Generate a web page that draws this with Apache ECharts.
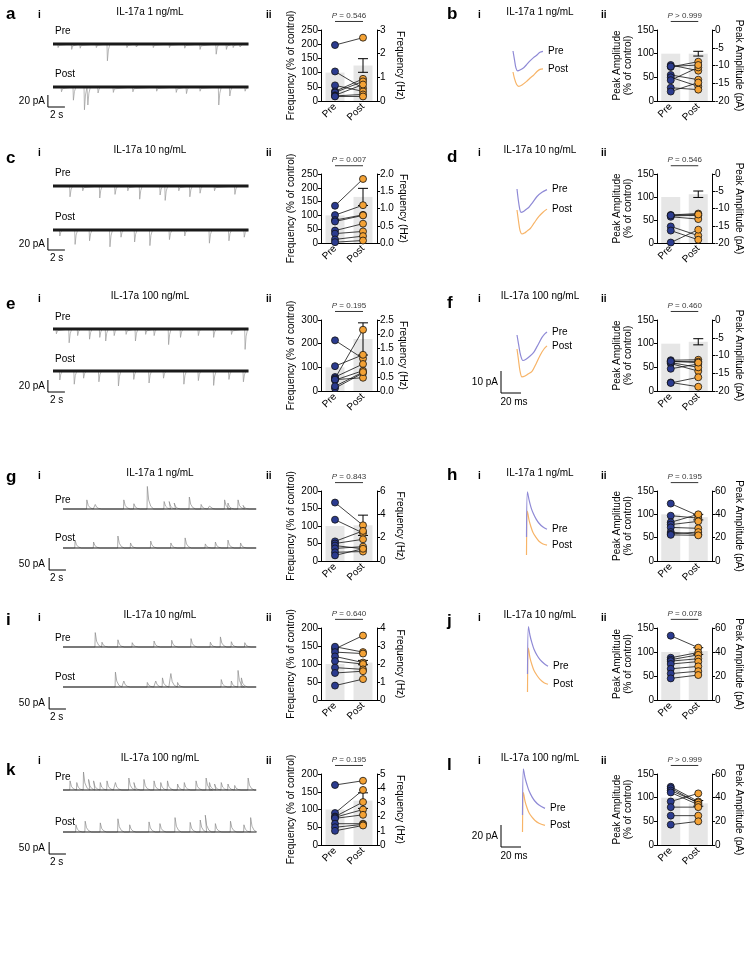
<!DOCTYPE html>
<html><head><meta charset="utf-8">
<script src="https://cdn.jsdelivr.net/npm/echarts@6.0.0/dist/echarts.min.js"></script>
<style>html,body{margin:0;padding:0;background:#fff}#c{width:750px;height:966px}</style>
</head><body><div id="c"></div>
<script>
// ================= DATA =================
const groups = ['Pre', 'Post'];
const panelLetters = ['a','b','c','d','e','f','g','h','i','j','k','l'];
const concLabels = ['IL-17a 1 ng/mL','IL-17a 1 ng/mL','IL-17a 10 ng/mL','IL-17a 10 ng/mL','IL-17a 100 ng/mL','IL-17a 100 ng/mL',
                    'IL-17a 1 ng/mL','IL-17a 1 ng/mL','IL-17a 10 ng/mL','IL-17a 10 ng/mL','IL-17a 100 ng/mL','IL-17a 100 ng/mL'];
const pValues = ['= 0.546','> 0.999','= 0.007','= 0.546','= 0.195','= 0.460','= 0.843','= 0.195','= 0.640','= 0.078','= 0.195','> 0.999'];

// paired values (% of control)
const freqPreA = [197,104,55,34,30,20,18,16];
const freqPostA = [223,45,34,78,69,58,23,16];
const ampPreB = [76,72,55,50,44,28,20,73];
const ampPostB = [64,83,45,31,71,24,39,76];
const freqPreC = [135,101,83,78,45,34,13,3];
const freqPostC = [232,137,102,100,70,42,25,9];
const ampPreD = [61,59,57,60,36,27,1];
const ampPostD = [64,60,52,62,16,7,29];
const freqPreE = [214,105,59,53,46,12,48,20];
const freqPostE = [137,153,114,259,86,76,56,80];
const ampPreF = [65,62,58,47,18,17,60,63];
const ampPostF = [66,62,42,57,9,29,50,60];
const freqPreG = [167,118,56,50,44,36,25,16];
const freqPostG = [102,80,86,62,35,41,27,35];
const ampPreH = [123,97,83,78,72,62,58,56];
const ampPostH = [97,92,100,85,70,57,62,55];
const freqPreI = [142,148,133,121,108,90,75,40];
const freqPostI = [179,133,129,104,100,85,80,58];
const ampPreJ = [134,88,84,81,75,65,55,45];
const ampPostJ = [109,99,94,86,80,70,60,52];
const freqPreK = [169,90,80,78,75,60,50,40];
const freqPostK = [181,155,121,100,85,60,58,55];
const ampPreL = [123,120,115,111,92,80,62,43];
const ampPostL = [92,88,90,85,109,80,62,50];

const preBarMeans = [100,100,100,100,100,100,100,100,100,100,100,100];
const postBarMeans = [125,100,167,106,220,104,102,94,104,102,125,88];
const postBarSEM = [24,5,31,7,68,6.5,29,6,6,7,22,6];

const leftMax = [250,150,250,150,300,150,200,150,200,150,200,150];
const leftStep = [50,50,50,50,100,50,50,50,50,50,50,50];
const rightMin = [0,-20,0,-20,0,-20,0,0,0,0,0,0];
const rightMax = [3,0,2,0,2.5,0,6,60,4,60,5,60];
const rightStep = [1,5,0.5,5,0.5,5,2,20,1,20,1,20];
const rightDecimals = [0,0,1,0,1,0,0,0,0,0,0,0];

// spontaneous trace events [time s, amplitude pA]
const spikesPreA = [[0.6,6],[2.2,9],[3.2,7],[5.1,6],[6.4,28],[8.7,6],[9.8,5],[11.8,6],[13.7,6],[15.5,7],[17.3,9],[19.2,17],[20.4,9],[21.2,6],[22.0,5]];
const spikesPostA = [[1.0,8],[2.4,22],[3.7,38],[4.1,30],[5.3,10],[7.1,9],[9.4,8],[12.2,7],[14.5,9],[15.7,11],[17.3,7],[19.5,30],[20.8,15],[22.6,7]];
const spikesPreC = [[2.0,18],[3.5,8],[5.5,20],[7.3,14],[8.8,8],[10.2,22],[12.6,15],[13.2,24],[14.8,8],[16.1,18],[17.3,12],[19.0,8],[21.4,14]];
const spikesPostC = [[0.8,10],[2.6,24],[4.3,18],[6.7,28],[8.0,12],[9.6,20],[11.4,26],[13.7,16],[15.5,10],[18.4,22],[20.7,18],[22.5,12]];
const spikesPreE = [[0.4,8],[1.9,23],[2.9,11],[4.3,17],[5.5,14],[6.2,20],[7.2,11],[8.6,9],[9.7,20],[10.9,9],[11.9,11],[13.6,26],[15.0,14],[17.1,11],[18.9,14],[21.0,9],[22.6,34]];
const spikesPostE = [[0.8,15],[2.5,22],[3.6,12],[5.4,18],[7.7,25],[9.5,14],[11.3,20],[13.0,12],[15.4,22],[17.1,16],[18.9,24],[20.7,14],[22.4,18]];
const spikesPreG = [[2.8,38],[3.8,19],[7.2,38],[8.4,22],[10.0,94],[12.0,31],[12.6,31],[13.2,25],[15.0,50],[16.4,19],[17.4,12],[19.2,38],[19.6,25],[20.8,38],[21.4,15]];
const spikesPostG = [[1.4,33],[3.6,25],[6.5,50],[8.0,21],[10.4,29],[12.8,21],[14.5,42],[16.9,17],[18.1,25],[19.6,33],[21.1,21]];
const spikesPreI = [[3.8,60],[4.6,20],[6.5,30],[8.2,18],[10.8,25],[12.9,28],[15.2,35],[17.5,20],[18.7,42],[20.0,22],[21.6,18]];
const spikesPostI = [[6.2,62],[7.2,25],[10.0,19],[11.0,25],[11.8,38],[12.8,56],[13.6,19],[18.8,31],[20.0,25],[20.8,69],[21.2,38]];
const spikesPreK = [[0.8,38],[1.6,31],[2.4,75],[3.0,44],[3.6,38],[4.4,31],[5.2,38],[6.2,31],[7.8,50],[8.4,31],[9.6,44],[10.8,38],[11.6,31],[12.4,38],[13.6,25],[14.4,31],[15.8,38],[17.0,50],[17.4,31],[18.0,25],[18.8,31],[19.6,25],[20.4,19],[22.0,50]];
const spikesPostK = [[1.5,30],[2.6,45],[4.4,38],[6.5,55],[7.9,30],[10.2,42],[11.5,35],[13.3,60],[15.1,40],[16.3,50],[16.9,70],[18.1,35],[19.9,45],[21.5,30],[22.3,60]];

// averaged event waveforms [time ms, pA]
const miniPreB = [[0,0],[1.5,-4],[3,-7.8],[4.7,-9],[7,-8.6],[10.7,-7.6],[14,-6],[17,-4.5],[20.5,-3],[24,-1.8],[27,-0.6],[30,-0.2]];
const miniPostB = [[0,0],[1.5,-3],[3.5,-5.6],[5.7,-6.5],[9,-5.9],[14,-4.1],[17.5,-2.6],[20.7,-1.4],[24,0.2],[27,1.2],[30,1.4]];
const miniPreD = [[0,0],[1.3,-5],[2.7,-9],[4,-10.6],[6.5,-10.2],[9,-9.3],[11.7,-8.4],[15,-6.5],[20,-3.4],[25,-1.5],[30,-0.3]];
const miniPostD = [[0,0],[1.5,-5],[3,-9.3],[5,-10.9],[7.5,-10.5],[10,-9.6],[13.3,-8.4],[17,-6],[21.7,-3],[26,-1],[30,0.4]];
const miniPreF = [[0,0],[1.5,-4],[3.5,-9],[6,-11.6],[9,-11],[12.5,-9.8],[16.7,-7.9],[20,-5.3],[25,-1.1],[28,0.6],[30,1.4]];
const miniPostF = [[0,0],[1.5,-5],[3,-10],[5,-12.7],[8,-12.3],[11,-11.4],[15,-10.2],[19,-6.8],[23.3,-2.7],[27,0],[30,1.4]];
const miniPreH = [[-0.5,0],[0,0],[0.4,41],[2,34],[4,27],[6,22],[9,16.5],[12,12.5],[16,9],[20,7]];
const miniPostH = [[-0.5,0],[0,0],[0.4,40],[2,32],[4,25.5],[6,20.5],[9,16],[12,12.5],[16,10],[20,9]];
const miniPreJ = [[-0.5,0],[0,0],[0.4,43],[2,35],[4,28],[6,22.5],[9,17],[12,13],[16,9.5],[20,7]];
const miniPostJ = [[-0.5,0],[0,0],[0.4,40],[2,31],[4,24.5],[6,19.5],[9,15],[12,11.5],[16,8.5],[20,7]];
const miniPreL = [[-0.5,0],[0,0],[0.4,42],[2,34],[4,27.5],[6,22],[9,16.5],[12,12.5],[16,9],[22,6]];
const miniPostL = [[-0.5,0],[0,0],[0.4,36],[2,28],[4,22],[6,17.5],[9,13.5],[12,10.5],[16,8],[22,6]];

// ================= LAYOUT (pixels) =================
const FONT = '"Liberation Sans", Arial, Helvetica, sans-serif';
const pairTop = [30, 174, 320, 491, 628, 774];
const pairBottom = [101, 243, 391, 561, 700, 845];
const pairLeftX = [321, 657];
const pairWidth = [56, 55];
const titleY = [12, 150, 296, 473, 615, 758];
const letterYL = [14, 158, 304, 477, 620, 770];
const letterYR = [14, 157, 303, 475, 621, 765];
const traceRows = [
  {pre:44, post:87, bar:107, preLabel:31, postLabel:74},
  {pre:186, post:230, bar:250, preLabel:173, postLabel:217},
  {pre:329, post:371, bar:392, preLabel:317, postLabel:359},
  {pre:509, post:548, bar:570, preLabel:500, postLabel:538},
  {pre:647, post:687, bar:709, preLabel:638, postLabel:677},
  {pre:790, post:832, bar:854, preLabel:777, postLabel:822}
];
const miniRows = [
  {x0:513, pre:51, post:72},
  {x0:517, pre:189, post:210},
  {x0:517, pre:335, post:349, bar:393, barX:501, barAmp:10, barLabel:'10 pA'},
  {x0:527, pre:537, post:555},
  {x0:528, pre:674, post:692},
  {x0:523, pre:815, post:832, bar:847, barX:501, barAmp:20, barLabel:'20 pA'}
];

const pairedPre = [freqPreA, ampPreB, freqPreC, ampPreD, freqPreE, ampPreF, freqPreG, ampPreH, freqPreI, ampPreJ, freqPreK, ampPreL];
const pairedPost = [freqPostA, ampPostB, freqPostC, ampPostD, freqPostE, ampPostF, freqPostG, ampPostH, freqPostI, ampPostJ, freqPostK, ampPostL];
const tracePre = [spikesPreA, spikesPreC, spikesPreE, spikesPreG, spikesPreI, spikesPreK];
const tracePost = [spikesPostA, spikesPostC, spikesPostE, spikesPostG, spikesPostI, spikesPostK];
const minisPre = [miniPreB, miniPreD, miniPreF, miniPreH, miniPreJ, miniPreL];
const minisPost = [miniPostB, miniPostD, miniPostF, miniPostH, miniPostJ, miniPostL];

const PRE_COLOR = '#2b3b8f', POST_COLOR = '#f4a235';
const MINI_PRE = '#8f8ad6', MINI_POST = '#f7b468';

const grids = [], xAxes = [], yAxes = [], series = [], texts = [];

function txt(x, y, s, size, opts) {
  opts = opts || {};
  texts.push({type:'text', x:x, y:y, silent:true, z:100,
    style:{text:s, fill:'#000', font:(opts.weight||'normal') + ' ' + size + 'px ' + FONT,
      align:opts.align||'left', verticalAlign:'middle'}});
}

function addPaired(k, row, side) {
  const g = grids.length;
  const top = pairTop[row], bottom = pairBottom[row];
  grids.push({left:pairLeftX[side], top:top, width:pairWidth[side], height:bottom-top});
  const xi = xAxes.length;
  xAxes.push({gridIndex:g, type:'category', data:groups,
    axisLine:{show:true, lineStyle:{color:'#000', width:1}}, axisTick:{show:false},
    axisLabel:{rotate:45, fontSize:10, color:'#000', margin:4, fontFamily:FONT}, splitLine:{show:false}});
  const yl = yAxes.length;
  const isFreq = side === 0;
  yAxes.push({gridIndex:g, type:'value', position:'left', min:0, max:leftMax[k], interval:leftStep[k],
    axisLine:{show:true, lineStyle:{color:'#000', width:1}}, axisTick:{show:true, length:3, lineStyle:{color:'#000'}},
    axisLabel:{fontSize:10, color:'#000', margin:3, fontFamily:FONT}, splitLine:{show:false},
    name: isFreq ? 'Frequency (% of control)' : 'Peak Amplitude\n(% of control)',
    nameLocation:'middle', nameRotate:90, nameGap: isFreq ? 24 : 22,
    nameTextStyle:{fontSize:10, color:'#000', fontFamily:FONT, lineHeight:11}});
  yAxes.push({gridIndex:g, type:'value', position:'right', min:rightMin[k], max:rightMax[k], interval:rightStep[k],
    axisLine:{show:true, lineStyle:{color:'#000', width:1}}, axisTick:{show:true, length:3, lineStyle:{color:'#000'}},
    axisLabel:{fontSize:10, color:'#000', margin:3, fontFamily:FONT, formatter:function(v){return v.toFixed(rightDecimals[k]);}},
    splitLine:{show:false},
    name: isFreq ? 'Frequency (Hz)' : 'Peak Amplitude (pA)',
    nameLocation:'middle', nameRotate:-90, nameGap: isFreq ? 18 : 22,
    nameTextStyle:{fontSize:10, color:'#000', fontFamily:FONT}});
  // bars
  series.push({type:'bar', xAxisIndex:xi, yAxisIndex:yl, data:[preBarMeans[k], postBarMeans[k]], barWidth:19,
    itemStyle:{color:'#e6e6e6'}, silent:true, z:1});
  // error bar
  const m = postBarMeans[k], s = postBarSEM[k];
  series.push({type:'custom', xAxisIndex:xi, yAxisIndex:yl, data:[[1, m - s, m + s]], silent:true, z:3, clip:false,
    renderItem:function(p, api){
      const a = api.coord([api.value(0), api.value(1)]);
      const b = api.coord([api.value(0), api.value(2)]);
      const st = {stroke:'#000', lineWidth:1};
      return {type:'group', children:[
        {type:'line', shape:{x1:a[0], y1:a[1], x2:b[0], y2:b[1]}, style:st},
        {type:'line', shape:{x1:a[0]-5, y1:a[1], x2:a[0]+5, y2:a[1]}, style:st},
        {type:'line', shape:{x1:b[0]-5, y1:b[1], x2:b[0]+5, y2:b[1]}, style:st}]};
    }});
  // pair lines
  const pre = pairedPre[k], post = pairedPost[k];
  for (let i = 0; i < pre.length; i++) {
    series.push({type:'line', xAxisIndex:xi, yAxisIndex:yl, data:[[0, pre[i]], [1, post[i]]], symbol:'none',
      lineStyle:{color:'#111', width:0.8}, silent:true, z:4});
  }
  series.push({type:'scatter', xAxisIndex:xi, yAxisIndex:yl, data:pre.map(function(v){return [0, v];}), symbolSize:7,
    itemStyle:{color:PRE_COLOR, borderColor:'#111', borderWidth:0.8, opacity:1}, silent:true, z:5, clip:false});
  series.push({type:'scatter', xAxisIndex:xi, yAxisIndex:yl, data:post.map(function(v){return [1, v];}), symbolSize:7,
    itemStyle:{color:POST_COLOR, borderColor:'#111', borderWidth:0.8, opacity:1}, silent:true, z:5, clip:false});
  // significance bracket
  const bY = leftMax[k] * 1.12;
  series.push({type:'line', xAxisIndex:xi, yAxisIndex:yl, data:[[0, bY], [1, bY]], symbol:'none', clip:false,
    lineStyle:{color:'#000', width:0.8}, silent:true});
  series.push({type:'scatter', xAxisIndex:xi, yAxisIndex:yl, data:[[0, bY]], symbolSize:0, clip:false, silent:true,
    label:{show:true, position:'inside', offset:[14, -6], fontSize:8, color:'#000', fontFamily:FONT,
      formatter:'{i|P} ' + pValues[k], rich:{i:{fontStyle:'italic', fontSize:8, fontFamily:FONT}}}});
}

function eventTrace(spikes, off, epsc) {
  const pts = [[0, off]];
  spikes.forEach(function(e){
    const t = e[0], a = e[1];
    if (epsc) {
      pts.push([t - 0.05, off], [t, off - a], [t + 0.12, off - a * 0.35], [t + 0.3, off]);
    } else {
      pts.push([t, off], [t + 0.04, off + a], [t + 0.2, off + a * 0.4], [t + 0.45, off + a * 0.12], [t + 0.8, off]);
    }
  });
  pts.push([23, off]);
  return pts;
}

function addTrace(row) {
  const lay = traceRows[row];
  const epsc = row < 3;
  const ppu = epsc ? 0.6 : 0.24;
  const pps = epsc ? 8.5 : 8.4;
  const startX = epsc ? 53 : 63;
  const xMin = epsc ? -1.5 : -2;
  const left = startX + xMin * pps;
  const top = lay.pre - (epsc ? 20 : 40);
  const bottom = lay.bar + 4;
  const g = grids.length;
  grids.push({left:left, top:top, width:(23 - xMin) * pps, height:bottom - top});
  const xi = xAxes.length, yi = yAxes.length;
  xAxes.push({gridIndex:g, type:'value', min:xMin, max:23, show:false});
  yAxes.push({gridIndex:g, type:'value', min:-(bottom - lay.pre) / ppu, max:(lay.pre - top) / ppu, show:false});
  const postOff = -(lay.post - lay.pre) / ppu;
  [[tracePre[row], 0], [tracePost[row], postOff]].forEach(function(p){
    series.push({type:'line', xAxisIndex:xi, yAxisIndex:yi, data:eventTrace(p[0], p[1], epsc), symbol:'none',
      lineStyle:{color: epsc ? '#9a9a9a' : '#8a8a8a', width:0.7}, silent:true, clip:false, z:2});
    series.push({type:'line', xAxisIndex:xi, yAxisIndex:yi, data:[[0, p[1]], [23, p[1]]], symbol:'none',
      lineStyle:{color:'#1a1a1a', width: epsc ? 3 : 1}, silent:true, clip:false, z:3});
  });
  // scale bar
  const bx = epsc ? -0.6 : -1.65;
  const b0 = -(lay.bar - lay.pre) / ppu;
  const amp = epsc ? 20 : 50;
  series.push({type:'line', xAxisIndex:xi, yAxisIndex:yi, data:[[bx, b0 + amp], [bx, b0], [bx + 2, b0]], symbol:'none',
    lineStyle:{color:'#000', width:1}, silent:true, clip:false});
  txt(45, lay.bar - 6, amp + ' pA', 10, {align:'right'});
  txt(50, lay.bar + 8, '2 s', 10);
  txt(55, lay.preLabel, 'Pre', 10);
  txt(55, lay.postLabel, 'Post', 10);
}

function addMini(row) {
  const lay = miniRows[row];
  const epsc = row < 3;
  const ppu = epsc ? 2.2 : 1.1;
  const top = lay.pre - (epsc ? 10 : 55);
  const bottom = lay.post + (epsc ? 50 : 20);
  const g = grids.length;
  grids.push({left:lay.x0 - 30, top:top, width:65, height:bottom - top});
  const xi = xAxes.length, yi = yAxes.length;
  xAxes.push({gridIndex:g, type:'value', min:-30, max:35, show:false});
  yAxes.push({gridIndex:g, type:'value', min:-(bottom - lay.pre) / ppu, max:(lay.pre - top) / ppu, show:false});
  const postOff = -(lay.post - lay.pre) / ppu;
  series.push({type:'line', xAxisIndex:xi, yAxisIndex:yi, data:minisPre[row], symbol:'none', smooth:0.3,
    lineStyle:{color:MINI_PRE, width:1.2}, silent:true, clip:false, z:3,
    endLabel:{show:true, formatter:'Pre', distance:5, fontSize:10, color:'#000', fontFamily:FONT}});
  series.push({type:'line', xAxisIndex:xi, yAxisIndex:yi, data:minisPost[row].map(function(p){return [p[0], p[1] + postOff];}),
    symbol:'none', smooth:0.3, lineStyle:{color:MINI_POST, width:1.2}, silent:true, clip:false, z:2,
    endLabel:{show:true, formatter:'Post', distance:5, fontSize:10, color:'#000', fontFamily:FONT}});
  if (lay.bar) {
    const bx = lay.barX - lay.x0;
    const b0 = -(lay.bar - lay.pre) / ppu;
    series.push({type:'line', xAxisIndex:xi, yAxisIndex:yi, data:[[bx, b0 + lay.barAmp], [bx, b0], [bx + 20, b0]],
      symbol:'none', lineStyle:{color:'#000', width:1}, silent:true, clip:false});
    txt(lay.barX - 3, lay.bar - 11, lay.barLabel, 10, {align:'right'});
    txt(lay.barX + 13, lay.bar + 9, '20 ms', 10, {align:'center'});
  }
}

for (let row = 0; row < 6; row++) {
  const kL = row * 2, kR = row * 2 + 1;
  addTrace(row);
  addMini(row);
  addPaired(kL, row, 0);
  addPaired(kR, row, 1);
  txt(6, letterYL[row], panelLetters[kL], 17, {weight:'bold'});
  txt(447, letterYR[row], panelLetters[kR], 17, {weight:'bold'});
  txt(38, titleY[row] + 3, 'i', 10, {weight:'bold'});
  txt(478, titleY[row] + 3, 'i', 10, {weight:'bold'});
  txt(266, titleY[row] + 3, 'ii', 10, {weight:'bold'});
  txt(601, titleY[row] + 3, 'ii', 10, {weight:'bold'});
  txt(row < 3 ? 150 : 160, titleY[row], concLabels[kL], 10, {align:'center'});
  txt(540, titleY[row], concLabels[kR], 10, {align:'center'});
}

const chart = echarts.init(document.getElementById('c'), null, {renderer:'canvas'});
chart.setOption({
  animation:false,
  backgroundColor:'#fff',
  textStyle:{fontFamily:FONT},
  grid:grids, xAxis:xAxes, yAxis:yAxes, series:series,
  graphic:{elements:texts}
});
</script>
</body></html>
